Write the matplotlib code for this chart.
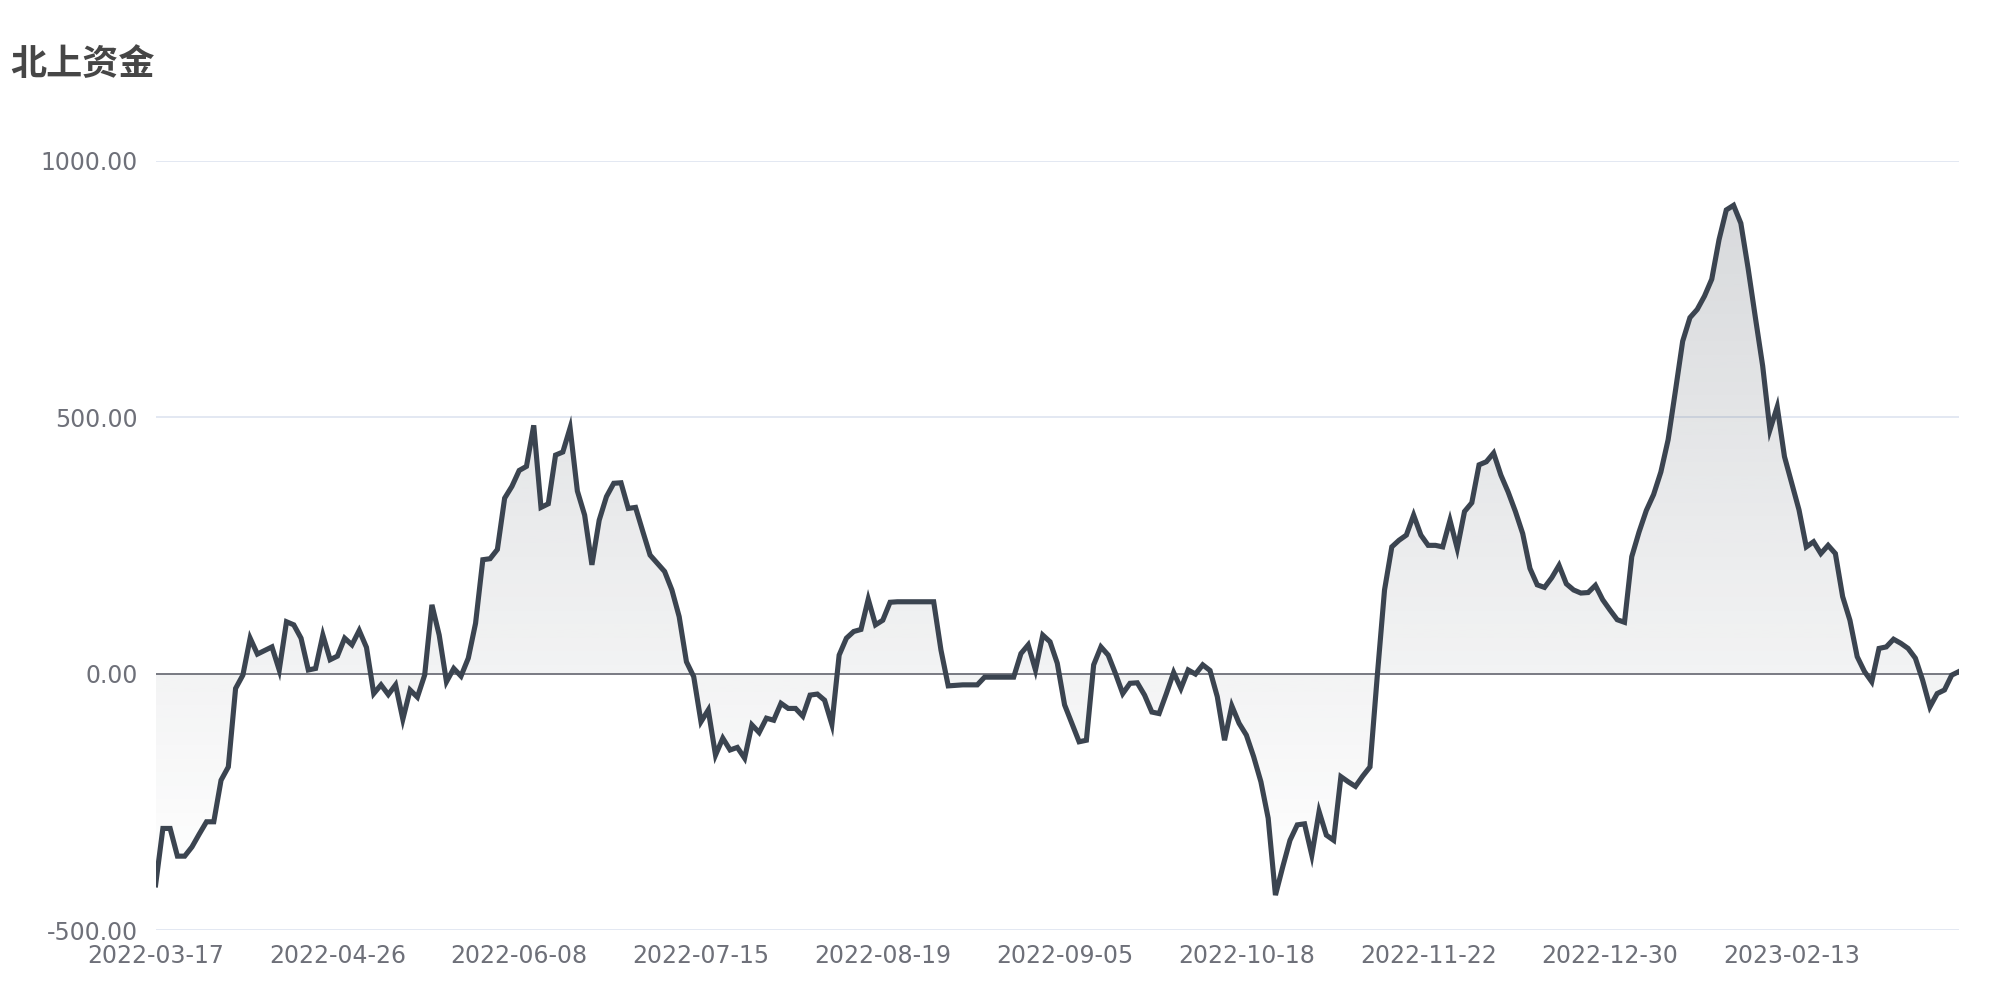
import numpy as np
import matplotlib
matplotlib.use('Agg')
import matplotlib.pyplot as plt
from matplotlib.patches import PathPatch

# 北上资金 (category axis, one value per point)
flow = [
    -412, -302, -302, -356, -356, -338, -313, -289, -289, -208,
    -182, -29, -3, 69, 38, 45, 52, 7, 101, 95,
    69, 7, 10, 75, 27, 34, 69, 56, 84, 51,
    -39, -22, -41, -22, -89, -32, -46, -3, 134, 75,
    -16, 10, -5, 30, 98, 222, 224, 242, 342, 365,
    396, 404, 484, 324, 331, 426, 432, 479, 356, 309,
    212, 299, 345, 371, 372, 322, 324, 277, 231, 215,
    199, 163, 111, 23, -6, -94, -71, -159, -126, -149,
    -144, -165, -100, -115, -87, -91, -58, -68, -68, -83,
    -42, -40, -52, -99, 36, 69, 82, 86, 145, 95,
    104, 139, 140, 140, 140, 140, 140, 140, 46, -24,
    -23, -22, -22, -22, -7, -7, -7, -7, -7, 39,
    56, 7, 75, 62, 20, -61, -97, -133, -130, 17,
    52, 36, 0, -39, -19, -18, -42, -75, -78, -39,
    2, -29, 7, -1, 17, 6, -45, -130, -63, -97,
    -120, -162, -211, -282, -432, -377, -325, -295, -293, -354,
    -269, -315, -325, -201, -211, -220, -200, -182, -5, 163,
    247, 260, 270, 309, 270, 250, 250, 247, 299, 244,
    316, 333, 407, 413, 430, 387, 354, 316, 273, 205,
    173, 168, 187, 211, 175, 163, 157, 158, 172, 144,
    124, 105, 100, 228, 276, 318, 349, 393, 456, 551,
    648, 694, 710, 736, 769, 846, 904, 913, 878, 790,
    694, 600, 475, 520, 423, 371, 319, 247, 257, 234,
    250, 234, 150, 104, 33, 4, -16, 49, 52, 67,
    59, 49, 30, -13, -65, -39, -32, -3, 4,
]
tick_labels = ['2022-03-17', '2022-04-26', '2022-06-08', '2022-07-15', '2022-08-19',
               '2022-09-05', '2022-10-18', '2022-11-22', '2022-12-30', '2023-02-13']
label_step = 25
y_ticks = [-500, 0, 500, 1000]

line_color = '#3b4450'
text_color = '#6e7079'
grid_color = '#e0e6f1'

x = np.arange(len(flow))
y = np.array(flow, dtype=float)

fig = plt.figure(figsize=(20, 10), dpi=100)
ax = fig.add_axes([0.0778, 0.07, 0.9017, 0.7693])

# gradient area between line and zero
fill = ax.fill_between(x, y, 0, facecolor='none', edgecolor='none')
path = fill.get_paths()[0]
patch = PathPatch(path, facecolor='none', edgecolor='none', transform=ax.transData)
ax.add_patch(patch)
rgb = np.array(matplotlib.colors.to_rgb(line_color))
grad = np.zeros((256, 1, 4))
grad[:, 0, :3] = rgb
grad[:, 0, 3] = np.linspace(0.0, 0.2, 256)
im = ax.imshow(grad, extent=[x[0], x[-1], y.min(), y.max()], origin='lower',
               aspect='auto', zorder=1, interpolation='bilinear')
im.set_clip_path(patch)

ax.plot(x, y, color=line_color, linewidth=3.7, solid_joinstyle='miter', zorder=3)

ax.set_xlim(0, len(flow) - 1)
ax.set_ylim(-500, 1000)
ax.set_yticks(y_ticks)
ax.set_yticklabels([f'{v:.2f}' for v in y_ticks])
ax.set_xticks(x[::label_step][:len(tick_labels)])
ax.set_xticklabels(tick_labels)

for v in y_ticks:
    if v == 0:
        ax.axhline(0, color=text_color, linewidth=1.3, zorder=2)
    else:
        ax.axhline(v, color=grid_color, linewidth=1.3, zorder=0)

for s in ax.spines.values():
    s.set_visible(False)
ax.tick_params(axis='both', length=0, labelsize=17, labelcolor=text_color)
ax.tick_params(axis='y', pad=13)
ax.tick_params(axis='x', pad=10)

fig.text(0.005, 0.935, '北上资金', fontsize=26, fontweight='bold', color='#464646',
         va='center', ha='left', family=['Noto Sans CJK SC', 'DejaVu Sans'])

fig.savefig('out.png', dpi=100)
